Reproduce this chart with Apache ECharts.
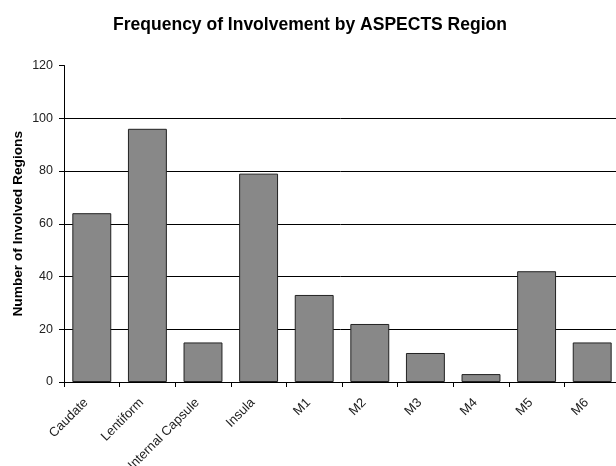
<!DOCTYPE html>
<html><head><meta charset="utf-8">
<script src="https://cdn.jsdelivr.net/npm/echarts@6/dist/echarts.min.js"></script>
<style>html,body{margin:0;padding:0;background:#fff}#c{width:616px;height:466px}</style>
</head><body><div id="c"></div>
<script>
const categories = ['Caudate','Lentiform','Internal Capsule','Insula','M1','M2','M3','M4','M5','M6'];
const values = [64, 96, 15, 79, 33, 22, 11, 3, 42, 15];
const yTicks = [0, 20, 40, 60, 80, 100, 120];

const chart = echarts.init(document.getElementById('c'), null, {renderer:'canvas'});
chart.setOption({
  animation: false,
  backgroundColor: '#fff',
  title: {
    text: 'Frequency of Involvement by ASPECTS Region',
    left: 305, top: 11, textAlign: 'center',
    textStyle: {fontFamily: 'Liberation Sans', fontSize: 17.5, fontWeight: 'bold', color: '#000'}
  },
  grid: {left: 64, top: 65.5, width: 556, height: 316.5, containLabel: false, outerBoundsMode: 'none'},
  xAxis: {
    type: 'category', data: categories,
    axisLine: {lineStyle: {color: '#000', width: 1}},
    axisTick: {show: true, alignWithLabel: false, length: 5, lineStyle: {color: '#000'}},
    axisLabel: {rotate: 45, margin: 13, padding: [0, 8, 0, 0], fontFamily: 'Liberation Sans', fontSize: 13, color: '#222', interval: 0}
  },
  yAxis: {
    type: 'value', min: yTicks[0], max: yTicks[yTicks.length-1], interval: 20,
    name: 'Number of Involved Regions', nameLocation: 'middle', nameGap: 39, nameRotate: 90,
    nameMoveOverlap: false,
    nameTextStyle: {fontFamily: 'Liberation Sans', fontSize: 13.7, fontWeight: 'bold', color: '#000'},
    axisLine: {show: true, lineStyle: {color: '#000', width: 1}},
    axisTick: {show: true, inside: false, length: 5, lineStyle: {color: '#000'}},
    axisLabel: {fontFamily: 'Liberation Sans', fontSize: 12.5, color: '#222', margin: 11},
    splitLine: {show: true, showMaxLine: false, lineStyle: {color: '#000', width: 1}}
  },
  series: [{
    type: 'bar', data: values, barWidth: '70%',
    itemStyle: {color: '#888888', borderColor: '#222', borderWidth: 1}
  }]
});
</script></body></html>
